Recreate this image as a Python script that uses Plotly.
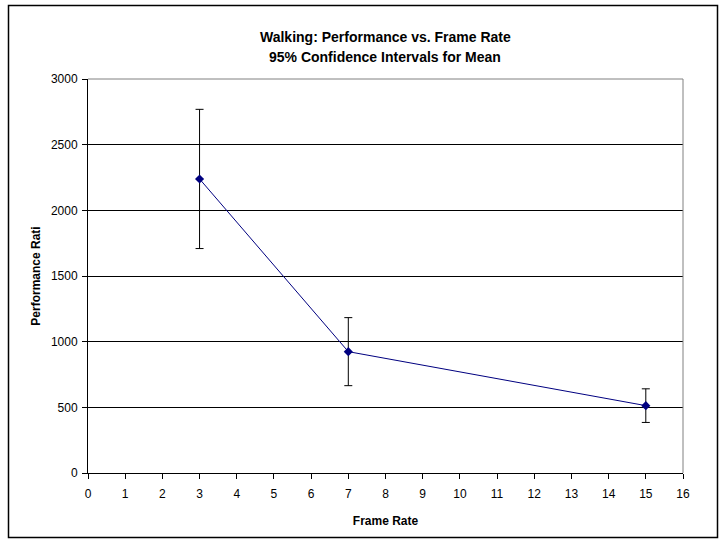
import plotly.graph_objects as go

# Walking performance by frame rate, with 95% confidence intervals
frame_rate = [3, 7, 15]
performance = [2239, 924, 513]
ci_half_width = [530, 259, 128]

x_ticks = list(range(0, 17))
y_ticks = [0, 500, 1000, 1500, 2000, 2500, 3000]

title_lines = ["Walking: Performance vs. Frame Rate", "95% Confidence Intervals for Mean"]

W, H = 720, 542
L, R, T, B = 88, 37, 79, 69
pw, ph = W - L - R, H - T - B


def px_to_paper_x(px):
    return (px - L) / pw


def px_to_paper_y(py):
    return (H - B - py) / ph


font_family = "Liberation Sans, Arial, sans-serif"

fig = go.Figure()
fig.add_trace(go.Scatter(
    x=frame_rate,
    y=performance,
    mode="lines+markers",
    line=dict(color="#000080", width=1),
    marker=dict(symbol="diamond", size=7, color="#000080"),
    error_y=dict(type="data", array=ci_half_width, visible=True,
                 color="#000000", thickness=1, width=4),
    hoverinfo="skip",
    showlegend=False,
))

# two-line chart title
title_annotations = [
    dict(text=f"<b>{line}</b>", xref="paper", yref="paper",
         x=px_to_paper_x(385), y=px_to_paper_y(py),
         xanchor="center", yanchor="middle", showarrow=False,
         font=dict(family=font_family, size=14, color="black"))
    for line, py in zip(title_lines, [37, 57])
]

fig.update_layout(
    width=W, height=H,
    margin=dict(l=L, r=R, t=T, b=B),
    paper_bgcolor="white",
    plot_bgcolor="white",
    font=dict(family=font_family, size=12, color="black"),
    annotations=title_annotations,
    xaxis=dict(
        range=[0, 16], tickvals=x_ticks, ticktext=[str(v) for v in x_ticks],
        showgrid=False, zeroline=False,
        showline=True, linecolor="black", linewidth=1,
        ticks="outside", ticklen=5, tickcolor="black", tickwidth=1,
        ticklabelstandoff=5,
        tickfont=dict(size=12, family=font_family),
        title=dict(text="<b>Frame Rate</b>", font=dict(size=12, family=font_family), standoff=16),
        fixedrange=True,
    ),
    yaxis=dict(
        range=[0, 3000], tickvals=y_ticks, ticktext=[str(v) for v in y_ticks],
        showgrid=True, gridcolor="black", gridwidth=1,
        zeroline=False,
        showline=True, linecolor="black", linewidth=1,
        ticks="outside", ticklen=5, tickcolor="black", tickwidth=1,
        ticklabelstandoff=2,
        tickfont=dict(size=12, family=font_family),
        title=dict(text="<b>Performance Rati</b>", font=dict(size=12, family=font_family), standoff=7),
        fixedrange=True,
    ),
    shapes=[
        # plot-area frame on the top and right
        dict(type="line", xref="paper", yref="paper", x0=0, x1=1, y0=1, y1=1,
             line=dict(color="#808080", width=1)),
        dict(type="line", xref="paper", yref="paper", x0=1, x1=1, y0=0, y1=1,
             line=dict(color="#808080", width=1)),
        # chart border
        dict(type="rect", xref="paper", yref="paper",
             x0=px_to_paper_x(8.5), x1=px_to_paper_x(717.5),
             y0=px_to_paper_y(537.5), y1=px_to_paper_y(5.5),
             line=dict(color="black", width=1.5)),
    ],
)

fig.write_html("out.html")
